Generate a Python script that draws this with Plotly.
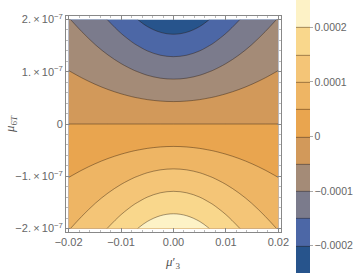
import numpy as np
import plotly.graph_objects as go

# axis coordinates
mu3 = [-0.02, -0.0175, -0.015, -0.0125, -0.01, -0.0075, -0.005, -0.0025, 0.0,
       0.0025, 0.005, 0.0075, 0.01, 0.0125, 0.015, 0.0175, 0.02]
mu6T = [-2e-7, -1.5e-7, -1e-7, -0.5e-7, 0.0, 0.5e-7, 1e-7, 1.5e-7, 2e-7]

# values in units of 1e-4, one row per mu6T value (bottom to top)
row_m2 = [0.979, 1.132, 1.312, 1.515, 1.731, 1.950, 2.146, 2.281, 2.330, 2.281, 2.146, 1.950, 1.731, 1.515, 1.312, 1.132, 0.979]
row_m15 = [0.734, 0.849, 0.984, 1.136, 1.298, 1.463, 1.609, 1.711, 1.748, 1.711, 1.609, 1.463, 1.298, 1.136, 0.984, 0.849, 0.734]
row_m1 = [0.489, 0.566, 0.656, 0.757, 0.866, 0.975, 1.073, 1.141, 1.165, 1.141, 1.073, 0.975, 0.866, 0.757, 0.656, 0.566, 0.489]
row_m05 = [0.245, 0.283, 0.328, 0.379, 0.433, 0.488, 0.536, 0.570, 0.583, 0.570, 0.536, 0.488, 0.433, 0.379, 0.328, 0.283, 0.245]
row_0 = [0.0] * 17
row_p05 = [-0.245, -0.283, -0.328, -0.379, -0.433, -0.488, -0.536, -0.570, -0.583, -0.570, -0.536, -0.488, -0.433, -0.379, -0.328, -0.283, -0.245]
row_p1 = [-0.489, -0.566, -0.656, -0.757, -0.866, -0.975, -1.073, -1.141, -1.165, -1.141, -1.073, -0.975, -0.866, -0.757, -0.656, -0.566, -0.489]
row_p15 = [-0.734, -0.849, -0.984, -1.136, -1.298, -1.463, -1.609, -1.711, -1.748, -1.711, -1.609, -1.463, -1.298, -1.136, -0.984, -0.849, -0.734]
row_p2 = [-0.979, -1.132, -1.312, -1.515, -1.731, -1.950, -2.146, -2.281, -2.330, -2.281, -2.146, -1.950, -1.731, -1.515, -1.312, -1.132, -0.979]

z_rows = [row_m2, row_m15, row_m1, row_m05, row_0, row_p05, row_p1, row_p15, row_p2]
z = np.array(z_rows) * 1e-4

band_colors = ["#27548c", "#4c67a6", "#7b7b8c", "#a48b77", "#d2995a",
               "#e9a54f", "#eeb564", "#f4c577", "#f9d78c", "#fdf2c6"]
n = len(band_colors)
colorscale = [[i / (n - 1), c] for i, c in enumerate(band_colors)]

cb_vals = [-2e-4, -1e-4, 0, 1e-4, 2e-4]
cb_text = ["\u22120.0002", "\u22120.0001", "0", "0.0001", "0.0002"]

x_ticks = [-0.02, -0.01, 0.0, 0.01, 0.02]
x_text = ["\u22120.02", "\u22120.01", "0.00", "0.01", "0.02"]
y_ticks = [-2e-7, -1e-7, 0.0, 1e-7, 2e-7]
y_text = ["\u22122.\u2009\u00d7\u200910<sup>\u22127</sup>", "\u22121.\u2009\u00d7\u200910<sup>\u22127</sup>", "0",
          "1.\u2009\u00d7\u200910<sup>\u22127</sup>", "2.\u2009\u00d7\u200910<sup>\u22127</sup>"]

grey = "#888888"
font = dict(family="Liberation Sans, Arial, sans-serif", size=11, color="#666666")
title_font = dict(family="Liberation Serif, serif", size=13, color="#555555")

fig = go.Figure(go.Contour(
    x=mu3, y=mu6T, z=z,
    zmin=-2.5e-4, zmax=2.5e-4,
    colorscale=colorscale,
    contours=dict(start=-2e-4, end=2e-4, size=5e-5, coloring="fill", showlines=True),
    line=dict(color="rgba(40,25,10,0.6)", width=0.7, smoothing=1),
    colorbar=dict(
        x=1.0698, xanchor="left", xpad=0, thickness=14,
        y=0.442, yanchor="middle", lenmode="pixels", len=273, ypad=0,
        outlinewidth=0,
        tickvals=cb_vals, ticktext=cb_text,
        ticks="outside", ticklen=3, tickcolor="#aaaaaa",
        tickfont=dict(family="Liberation Sans, Arial, sans-serif", size=10.5, color="#666666"),
    ),
    hoverinfo="skip",
))

fig.update_layout(
    width=354, height=273,
    margin=dict(l=66, r=73, t=16, b=41, autoexpand=False),
    paper_bgcolor="white", plot_bgcolor="white",
    font=font,
    showlegend=False,
    annotations=[
        dict(text="<i>\u03bc</i>\u2032<sub>3</sub>", xref="paper", yref="paper",
             x=0.494, y=-0.139, xanchor="center", yanchor="middle",
             showarrow=False, font=title_font),
        dict(text="<i>\u03bc</i><sub>6<i>T</i></sub>", xref="paper", yref="paper",
             x=-0.26, y=0.5, xanchor="center", yanchor="middle", textangle=-90,
             showarrow=False, font=title_font),
    ],
)
fig.update_xaxes(
    range=[-0.0205, 0.0205], tickvals=x_ticks, ticktext=x_text,
    showgrid=False, zeroline=False,
    showline=True, linecolor=grey, linewidth=1, mirror="ticks",
    ticks="inside", ticklen=4, tickcolor=grey,
    minor=dict(ticks="inside", ticklen=2, tickcolor="#bbbbbb", dtick=0.002, showgrid=False),
)
fig.update_yaxes(
    range=[-2.065e-7, 2.065e-7], tickvals=y_ticks, ticktext=y_text,
    showgrid=False, zeroline=False,
    showline=True, linecolor=grey, linewidth=1, mirror="ticks",
    ticks="inside", ticklen=4, tickcolor=grey,
    minor=dict(ticks="inside", ticklen=2, tickcolor="#bbbbbb", dtick=0.2e-7, showgrid=False),
)

fig.write_html("out.html", config={"displayModeBar": False},
               post_script="document.body.style.margin='0';document.body.style.overflow='hidden';")
